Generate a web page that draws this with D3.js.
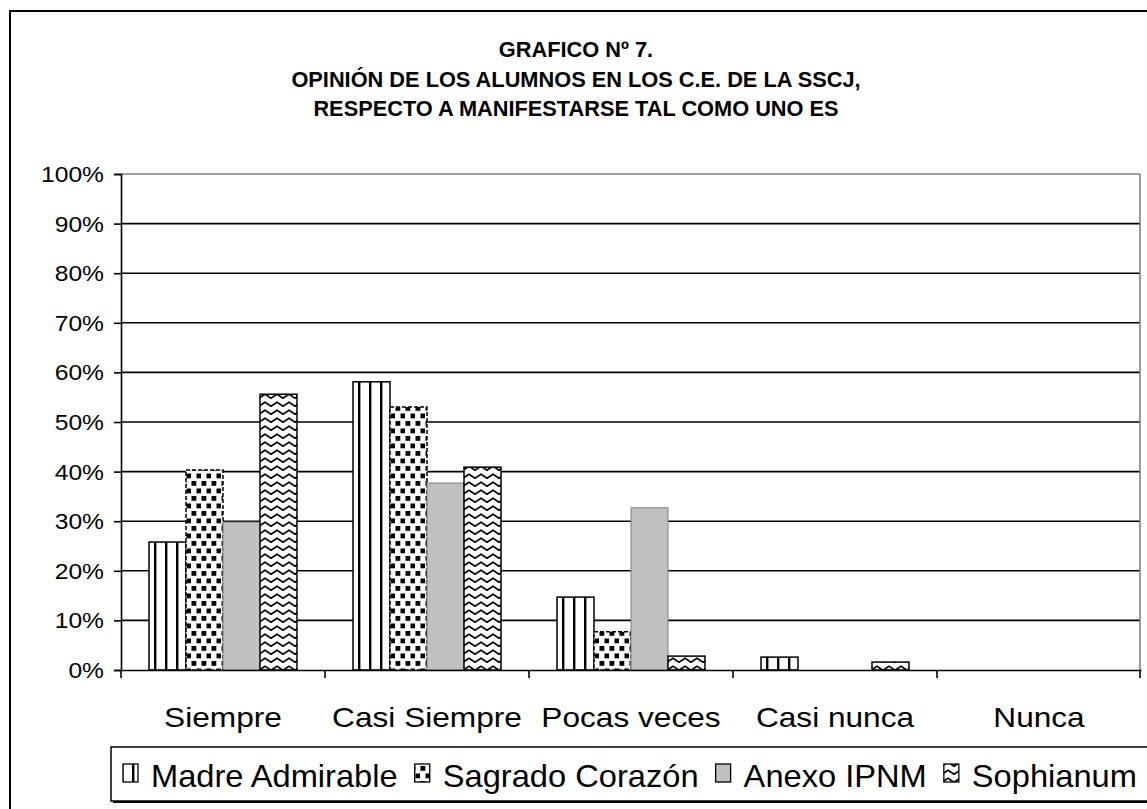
<!DOCTYPE html>
<html>
<head>
<meta charset="utf-8">
<script src="https://cdn.jsdelivr.net/npm/d3@7"></script>
<style>
  html, body { margin: 0; padding: 0; background: #fff; }
  svg { display: block; font-family: 'Liberation Sans', Arial, sans-serif; }
</style>
</head>
<body>
<div id="chart"></div>
<script>
const categories = ['Siempre', 'Casi Siempre', 'Pocas veces', 'Casi nunca', 'Nunca'];
const seriesNames = ['Madre Admirable', 'Sagrado Corazón', 'Anexo IPNM', 'Sophianum'];
const madreAdmirable = [25.8, 58.1, 14.7, 2.6, 0];
const sagradoCorazon = [40.3, 53.0, 7.7, 0, 0];
const anexoIpnm = [29.8, 37.7, 32.7, 0, 0];
const sophianum = [55.6, 40.9, 2.8, 1.6, 0];
const yTicks = [0, 10, 20, 30, 40, 50, 60, 70, 80, 90, 100];
const titleLines = [
  'GRAFICO Nº 7.',
  'OPINIÓN DE LOS ALUMNOS EN LOS C.E. DE LA SSCJ,',
  'RESPECTO A MANIFESTARSE TAL COMO UNO ES',
];

const seriesValues = [madreAdmirable, sagradoCorazon, anexoIpnm, sophianum];
const fills = ['url(#pat-lines)', 'url(#pat-dots)', '#c0c0c0', 'url(#pat-zigzag)'];

const WIDTH = 1147;
const HEIGHT = 809;
const PLOT = { left: 121, right: 1141, top: 174, bottom: 670 };

const svg = d3
  .select('#chart')
  .append('svg')
  .attr('width', WIDTH)
  .attr('height', HEIGHT);

// patterns
const defs = svg.append('defs');

const pLines = defs
  .append('pattern')
  .attr('id', 'pat-lines')
  .attr('patternUnits', 'userSpaceOnUse')
  .attr('width', 11)
  .attr('height', 10);
pLines.append('rect').attr('width', 11).attr('height', 10).attr('fill', '#fff');
pLines.append('rect').attr('x', 0).attr('width', 2.4).attr('height', 10).attr('fill', '#000');

const pDots = defs
  .append('pattern')
  .attr('id', 'pat-dots')
  .attr('patternUnits', 'userSpaceOnUse')
  .attr('width', 10)
  .attr('height', 15);
pDots.append('rect').attr('width', 10).attr('height', 15).attr('fill', '#fff');
pDots.append('rect').attr('x', 0.5).attr('y', 1).attr('width', 4.8).attr('height', 4.8).attr('fill', '#000');
pDots.append('rect').attr('x', 5.5).attr('y', 8.5).attr('width', 4.8).attr('height', 4.8).attr('fill', '#000');

const pZig = defs
  .append('pattern')
  .attr('id', 'pat-zigzag')
  .attr('patternUnits', 'userSpaceOnUse')
  .attr('width', 12)
  .attr('height', 8);
pZig.append('rect').attr('width', 12).attr('height', 8).attr('fill', '#fff');
pZig
  .append('path')
  .attr('d', 'M-1,1.5 L6,6.2 L13,1.5')
  .attr('fill', 'none')
  .attr('stroke', '#000')
  .attr('stroke-width', 1.7);

// outer frame
svg
  .append('rect')
  .attr('x', 10)
  .attr('y', 11)
  .attr('width', WIDTH + 20)
  .attr('height', HEIGHT + 20)
  .attr('fill', 'none')
  .attr('stroke', '#000')
  .attr('stroke-width', 2);

// title
svg
  .append('g')
  .selectAll('text')
  .data(titleLines)
  .enter()
  .append('text')
  .attr('text-anchor', 'middle')
  .attr('font-size', 22)
  .attr('font-weight', 'bold')
  .attr('transform', (d, i) => 'translate(576,' + (57 + i * 29.5) + ') scale(0.99,1)')
  .text((d) => d);

// scales
const x0 = d3
  .scaleBand()
  .domain(categories)
  .range([PLOT.left, PLOT.right])
  .paddingInner(0)
  .paddingOuter(0);

const x1 = d3
  .scaleBand()
  .domain(seriesNames)
  .range([0, x0.bandwidth()])
  .paddingInner(0)
  .paddingOuter(0.757);

const y = d3.scaleLinear().domain([0, 100]).range([PLOT.bottom, PLOT.top]);

// gridlines
svg
  .append('g')
  .selectAll('line')
  .data(yTicks.filter((t) => t > 0))
  .enter()
  .append('line')
  .attr('x1', PLOT.left)
  .attr('x2', PLOT.right - 1)
  .attr('y1', (d) => y(d))
  .attr('y2', (d) => y(d))
  .attr('stroke', (d) => (d === 100 ? '#808080' : '#000'))
  .attr('stroke-width', 1.6);

// right border of plot area
svg
  .append('line')
  .attr('x1', PLOT.right - 1)
  .attr('x2', PLOT.right - 1)
  .attr('y1', PLOT.top)
  .attr('y2', PLOT.bottom)
  .attr('stroke', '#808080')
  .attr('stroke-width', 1.6);

// bars
const groups = svg
  .append('g')
  .selectAll('g')
  .data(categories)
  .enter()
  .append('g')
  .attr('transform', (c) => 'translate(' + x0(c) + ',0)');

groups
  .selectAll('rect')
  .data((c, ci) =>
    seriesNames
      .map((s, si) => ({ series: s, index: si, value: seriesValues[si][ci] }))
      .filter((d) => d.value > 0)
  )
  .enter()
  .append('rect')
  .attr('x', (d) => x1(d.series))
  .attr('width', x1.bandwidth())
  .attr('y', (d) => y(d.value))
  .attr('height', (d) => y(0) - y(d.value))
  .attr('fill', (d) => fills[d.index])
  .attr('stroke', (d) => (d.index === 2 ? '#808080' : '#000'))
  .attr('stroke-width', (d) => (d.index === 2 ? 1 : 1.5))
  .attr('stroke-dasharray', (d) => (d.index === 1 ? '4,2' : null));

// y axis
const yAxis = svg
  .append('g')
  .attr('transform', 'translate(' + PLOT.left + ',0)')
  .call(d3.axisLeft(y).tickValues(yTicks).tickSize(7).tickFormat(''));
yAxis.select('.domain').attr('stroke', '#000').attr('stroke-width', 1.6);
yAxis.selectAll('.tick line').attr('stroke', '#000').attr('stroke-width', 1.6);

svg
  .append('g')
  .selectAll('text')
  .data(yTicks)
  .enter()
  .append('text')
  .attr('text-anchor', 'end')
  .attr('font-size', 22)
  .attr('transform', (d) => 'translate(104,' + (y(d) + 8) + ') scale(1.12,1)')
  .text((d) => d + '%');

// x axis
const xAxis = svg
  .append('g')
  .attr('transform', 'translate(0,' + PLOT.bottom + ')')
  .call(d3.axisBottom(x0).tickSize(0).tickFormat(''));
xAxis.select('.domain').attr('stroke', '#000').attr('stroke-width', 1.6);
xAxis.selectAll('.tick').remove();

// category separators (ticks on band edges)
svg
  .append('g')
  .selectAll('line')
  .data(categories.map((c) => x0(c)).concat([PLOT.right - 1]))
  .enter()
  .append('line')
  .attr('x1', (d) => d)
  .attr('x2', (d) => d)
  .attr('y1', PLOT.bottom)
  .attr('y2', PLOT.bottom + 8)
  .attr('stroke', '#000')
  .attr('stroke-width', 1.6);

svg
  .append('g')
  .selectAll('text')
  .data(categories)
  .enter()
  .append('text')
  .attr('text-anchor', 'middle')
  .attr('font-size', 28)
  .attr('transform', (c) => 'translate(' + (x0(c) + x0.bandwidth() / 2) + ',727) scale(1.13,1)')
  .text((c) => c);

// legend
drawLegend();

/**
 * 凡例を描画する
 */
function drawLegend() {
  const LEFT = 111;
  const TOP = 747;
  const BOX_H = 54;
  const MARK = 15;
  const GAP_MARK = 13;
  const GAP_ITEM = 17;
  const START = 123;
  const END = 1137;

  svg
    .append('rect')
    .attr('x', LEFT + 2)
    .attr('y', TOP + 2)
    .attr('width', 1100)
    .attr('height', BOX_H)
    .attr('fill', '#000');
  svg
    .append('rect')
    .attr('x', LEFT)
    .attr('y', TOP)
    .attr('width', 1100)
    .attr('height', BOX_H)
    .attr('fill', '#fff')
    .attr('stroke', '#000')
    .attr('stroke-width', 1.5);

  const legend = svg.append('g');
  const labels = seriesNames.map((name) =>
    legend.append('text').attr('font-size', 32).text(name)
  );
  const widths = labels.map((t) => t.node().getComputedTextLength());
  const free = END - START - seriesNames.length * (MARK + GAP_MARK) - (seriesNames.length - 1) * GAP_ITEM;
  const sx = free / d3.sum(widths);

  let cx = START;
  seriesNames.forEach((name, i) => {
    legend
      .append('rect')
      .attr('x', cx)
      .attr('y', TOP + 17)
      .attr('width', MARK)
      .attr('height', MARK + 3)
      .attr('fill', fills[i])
      .attr('stroke', '#000')
      .attr('stroke-width', 1.3);
    cx += MARK + GAP_MARK;
    labels[i].attr('transform', 'translate(' + cx + ',' + (TOP + 40) + ') scale(' + sx + ',1)');
    cx += widths[i] * sx + GAP_ITEM;
  });
}
</script>
</body>
</html>
